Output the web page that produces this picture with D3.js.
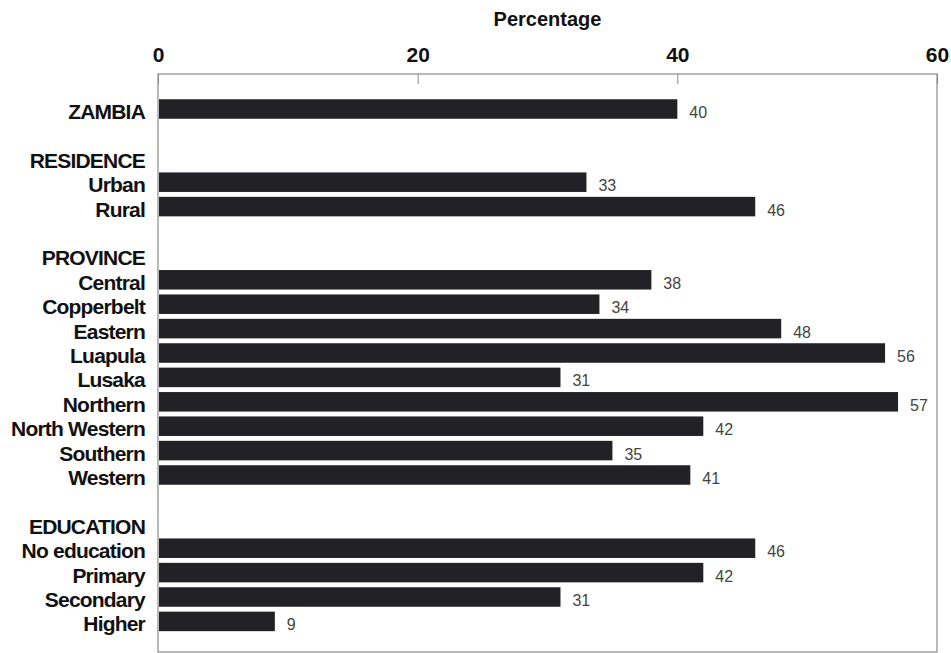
<!DOCTYPE html>
<html>
<head>
<meta charset="utf-8">
<script src="https://cdn.jsdelivr.net/npm/d3@7/dist/d3.min.js"></script>
<style>
  html, body { margin: 0; padding: 0; background: #fff; }
  svg { display: block; }
</style>
</head>
<body>
<svg id="chart" width="951" height="653"></svg>
<script>
// Row labels, top to bottom; empty strings are spacer rows
const rowLabels = [
  "ZAMBIA", "",
  "RESIDENCE", "Urban", "Rural", "",
  "PROVINCE", "Central", "Copperbelt", "Eastern", "Luapula", "Lusaka",
  "Northern", "North Western", "Southern", "Western", "",
  "EDUCATION", "No education", "Primary", "Secondary", "Higher"
];
// Percentage for each row (null = header or spacer, no bar)
const rowValues = [
  40, null,
  null, 33, 46, null,
  null, 38, 34, 48, 56, 31,
  57, 42, 35, 41, null,
  null, 46, 42, 31, 9
];
const tickValues = [0, 20, 40, 60];
const axisTitle = "Percentage";

const svg = d3.select("#chart");
const plotLeft = 158, plotRight = 937, plotTop = 74, plotBottom = 652;

const x = d3.scaleLinear().domain([0, 60]).range([plotLeft, plotRight]);
const y = d3.scaleBand()
  .domain(d3.range(rowLabels.length))
  .range([96.8, 96.8 + 24.4 * rowLabels.length])
  .paddingInner(0.2)
  .paddingOuter(0.1);

// Plot frame
svg.append("rect")
  .attr("x", plotLeft).attr("y", plotTop)
  .attr("width", plotRight - plotLeft).attr("height", plotBottom - plotTop)
  .attr("fill", "none")
  .attr("stroke", "#8a8a8a")
  .attr("stroke-width", 1.2);

// Top axis: tick labels and inward tick marks
const axis = d3.axisTop(x).tickValues(tickValues).tickSize(-10).tickPadding(12);
const gAxis = svg.append("g").attr("transform", `translate(0,${plotTop})`).call(axis);
gAxis.select(".domain").remove();
gAxis.selectAll(".tick line").attr("stroke", "#8a8a8a");
gAxis.selectAll(".tick text")
  .attr("font-family", "'Liberation Sans', Arial, sans-serif")
  .attr("font-weight", "bold")
  .attr("font-size", 21)
  .attr("fill", "#111");

svg.append("text")
  .attr("x", (plotLeft + plotRight) / 2)
  .attr("y", 26)
  .attr("text-anchor", "middle")
  .attr("font-family", "'Liberation Sans', Arial, sans-serif")
  .attr("font-weight", "bold")
  .attr("font-size", 20)
  .attr("fill", "#111")
  .text(axisTitle);

const rows = rowLabels.map((label, i) => ({ i, label, value: rowValues[i] }));

// Category labels
svg.append("g").selectAll("text")
  .data(rows.filter(d => d.label !== ""))
  .join("text")
  .attr("x", 145)
  .attr("y", d => y(d.i) + y.bandwidth() / 2 + 10)
  .attr("text-anchor", "end")
  .attr("font-family", "'Liberation Sans', Arial, sans-serif")
  .attr("font-weight", "bold")
  .attr("font-size", 21)
  .attr("letter-spacing", "-0.8")
  .attr("fill", "#111")
  .text(d => d.label);

const withBars = rows.filter(d => d.value !== null);

// Bars
svg.append("g").selectAll("rect")
  .data(withBars)
  .join("rect")
  .attr("x", x(0) + 1)
  .attr("y", d => y(d.i))
  .attr("width", d => x(d.value) - x(0) - 1)
  .attr("height", y.bandwidth())
  .attr("fill", "#222226");

// Value labels
svg.append("g").selectAll("text")
  .data(withBars)
  .join("text")
  .attr("x", d => x(d.value) + 12)
  .attr("y", d => y(d.i) + y.bandwidth() / 2 + 9)
  .attr("font-family", "'Liberation Sans', Arial, sans-serif")
  .attr("font-size", 16)
  .attr("fill", "#444")
  .text(d => d.value);
</script>
</body>
</html>
